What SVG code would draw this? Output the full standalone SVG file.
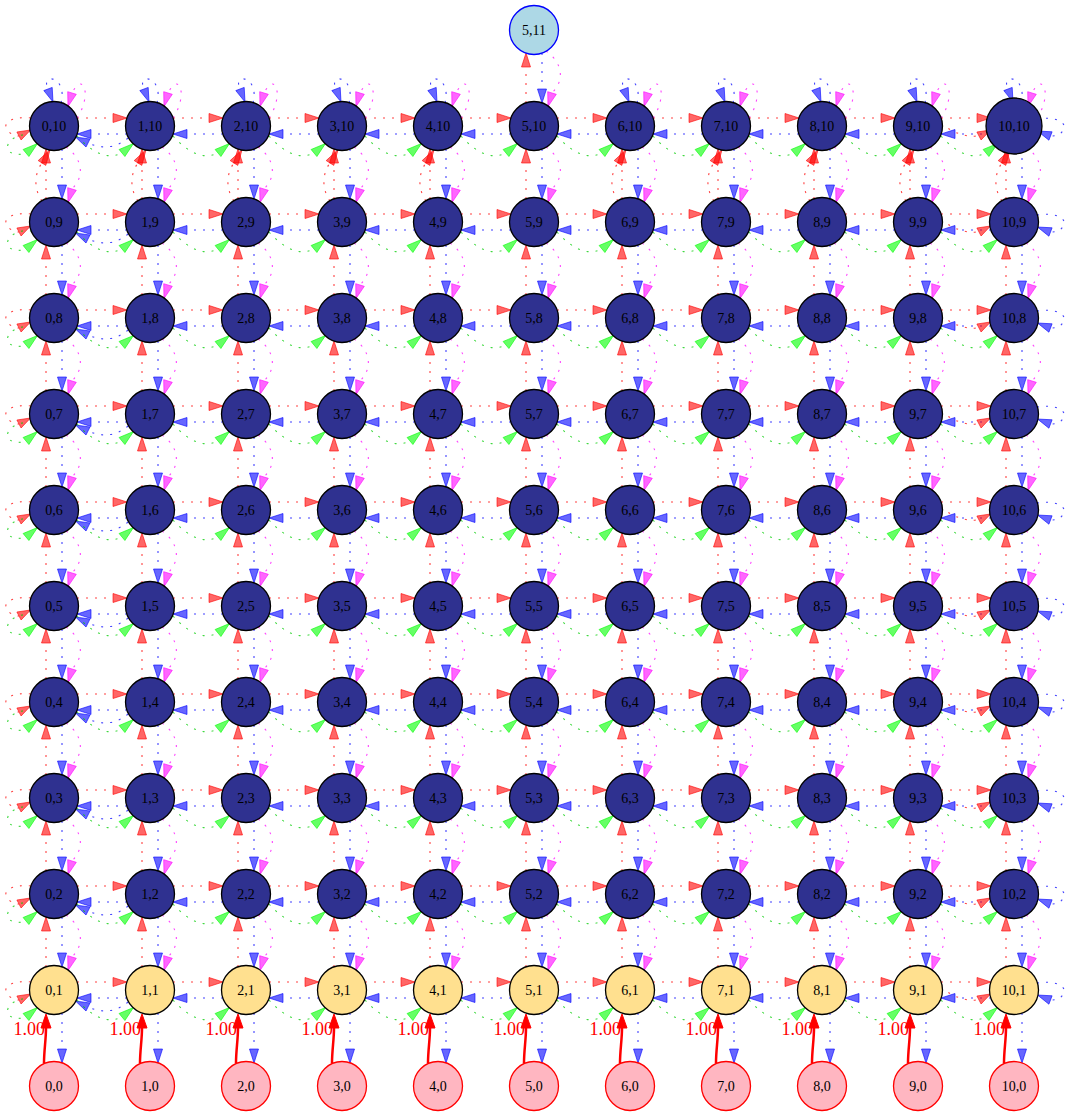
<svg xmlns="http://www.w3.org/2000/svg" xmlns:xlink="http://www.w3.org/1999/xlink" width="1073" height="1117" viewBox="0 0 1073 1117">
<style>
path{fill:none;stroke-width:1.1;stroke-dasharray:2 7;stroke-opacity:.75}
.r{stroke:#f00}.b{stroke:#00f}.m{stroke:#f0f}.g{stroke:#0c0}
polygon{fill-opacity:.6;stroke-opacity:.6;stroke-width:1}
.ra{fill:#f00;stroke:#f00}.ba{fill:#00f;stroke:#00f}.ma{fill:#f0f;stroke:#f0f}.ga{fill:#0f0;stroke:#0f0}
.thk{stroke:#f00;stroke-width:2.5;stroke-dasharray:none;stroke-opacity:1}
.tha{fill:#f00;stroke:#f00;fill-opacity:1;stroke-opacity:1}
.lab{font-family:"Liberation Serif","Times New Roman",serif;font-size:18px;fill:#f00;text-anchor:end}
.node circle{stroke-width:1.3}
.d circle{fill:#2f3190;stroke:#000}
.y circle{fill:#ffe08f;stroke:#000}
.p circle{fill:#ffb6c1;stroke:#f00}
.t circle{fill:#add8e6;stroke:#00f}
.node text{font-family:"Liberation Serif","Times New Roman",serif;font-size:14px;text-anchor:middle;fill:#000}
</style>
<defs>
<g id="rl"><path class="r" d="M-73,-8H-37"/><polygon class="ra" points="-23,-8 -37,-12.5 -37,-3.5"/></g>
<g id="br"><path class="b" d="M73,8H37"/><polygon class="ba" points="23,8 37,3.5 37,12.5"/></g>
<g id="rb"><path class="r" d="M-8,73V37"/><polygon class="ra" points="-8,23 -12.5,37 -3.5,37"/></g>
<g id="bt"><path class="b" d="M8,-73V-37"/><polygon class="ba" points="8,-23 3.5,-37 12.5,-37"/></g>
<g id="mt"><path class="m" d="M12,-75C30,-62 30,-45 18,-33"/><polygon class="ma" points="14,-19.5 22.3,-31.7 13.7,-34.3"/></g>
<g id="gl"><path class="g" d="M-73,10C-55,30 -40,33 -28,27"/><polygon class="ga" points="-16.5,17.5 -25.1,30.5 -30.9,23.5"/></g>
<g id="rloopL"><path class="r" d="M-23,-8C-40,-10 -52,-4 -47,3C-44,8 -40,10 -35,10"/><polygon class="ra" points="-23.5,4 -32.9,14 -37.1,6"/></g>
<g id="gloopL"><path class="g" d="M-22,9C-40,6 -52,20 -44,26C-40,29 -33,29 -28,27"/><polygon class="ga" points="-16.5,17.5 -25.1,30.5 -30.9,23.5"/></g>
<g id="bx"><path class="b" d="M74,12C60,24 45,22 34,17"/><polygon class="ba" points="21.5,11 36,13 32,21"/></g>
<g id="rx"><path class="r" d="M-73,-3C-60,8 -48,11 -35,10"/><polygon class="ra" points="-23.5,4 -32.9,14 -37.1,6"/></g>
<g id="bloopR"><path class="b" d="M23,-7C40,-10 52,-4 50,2C48,8 44,10 36.5,10"/><polygon class="ba" points="23.5,5 38.1,5.8 34.9,14.2"/></g>
<g id="bloopT"><path class="b" d="M7,-23C14,-50 -14,-54 -6,-37"/><polygon class="ba" points="-1,-24 -1.8,-38.6 -10.2,-35.4"/></g>
<g id="mloopT"><path class="m" d="M23,-8C38,-30 30,-56 18,-33"/><polygon class="ma" points="14,-19.5 22.3,-31.7 13.7,-34.3"/></g>
<g id="rxb"><path class="r" d="M-12,75C-22,60 -18,45 -12,37"/><polygon class="ra" points="-4,23.7 -8.2,39.4 -15.8,34.6"/></g>
<g id="thick"><path class="thk" d="M-10,73C-10,60 -8,50 -8,38"/><polygon class="tha" points="-8,24 -13,38 -3,38"/><text class="lab" x="-9" y="45">1.00</text></g>
<g id="h"><use xlink:href="#rl"/><use xlink:href="#gl"/><use xlink:href="#br"/></g>
<g id="h0"><use xlink:href="#rloopL"/><use xlink:href="#gloopL"/><use xlink:href="#br"/><use xlink:href="#bx"/></g>
<g id="h10"><use xlink:href="#rl"/><use xlink:href="#rx"/><use xlink:href="#gl"/><use xlink:href="#bloopR"/></g>
<g id="v"><use xlink:href="#rb"/><use xlink:href="#bt"/><use xlink:href="#mt"/></g>
<g id="vt"><use xlink:href="#bt"/><use xlink:href="#mt"/><use xlink:href="#thick"/></g>
<g id="vtop"><use xlink:href="#rb"/><use xlink:href="#rxb"/><use xlink:href="#bloopT"/><use xlink:href="#mloopT"/></g>
<g id="hrow"><use xlink:href="#h0" x="54"/><use xlink:href="#h" x="150"/><use xlink:href="#h" x="246"/><use xlink:href="#h" x="342"/><use xlink:href="#h" x="438"/><use xlink:href="#h" x="534"/><use xlink:href="#h" x="630"/><use xlink:href="#h" x="726"/><use xlink:href="#h" x="822"/><use xlink:href="#h" x="918"/><use xlink:href="#h10" x="1014"/></g>
<g id="vrow"><use xlink:href="#v" x="54"/><use xlink:href="#v" x="150"/><use xlink:href="#v" x="246"/><use xlink:href="#v" x="342"/><use xlink:href="#v" x="438"/><use xlink:href="#v" x="534"/><use xlink:href="#v" x="630"/><use xlink:href="#v" x="726"/><use xlink:href="#v" x="822"/><use xlink:href="#v" x="918"/><use xlink:href="#v" x="1014"/></g>
<g id="row"><use xlink:href="#hrow"/><use xlink:href="#vrow"/></g>
</defs>
<g id="connectors">
<use xlink:href="#rb" x="534" y="30"/>
<use xlink:href="#hrow" y="126"/>
<use xlink:href="#vtop" x="54" y="126"/><use xlink:href="#vtop" x="150" y="126"/><use xlink:href="#vtop" x="246" y="126"/><use xlink:href="#vtop" x="342" y="126"/><use xlink:href="#vtop" x="438" y="126"/><use xlink:href="#v" x="534" y="126"/><use xlink:href="#vtop" x="630" y="126"/><use xlink:href="#vtop" x="726" y="126"/><use xlink:href="#vtop" x="822" y="126"/><use xlink:href="#vtop" x="918" y="126"/><use xlink:href="#vtop" x="1014" y="126"/>
<use xlink:href="#row" y="222"/>
<use xlink:href="#row" y="318"/>
<use xlink:href="#row" y="414"/>
<use xlink:href="#row" y="510"/>
<use xlink:href="#row" y="606"/>
<use xlink:href="#row" y="702"/>
<use xlink:href="#row" y="798"/>
<use xlink:href="#row" y="894"/>
<use xlink:href="#hrow" y="990"/>
<use xlink:href="#vt" x="54" y="990"/><use xlink:href="#vt" x="150" y="990"/><use xlink:href="#vt" x="246" y="990"/><use xlink:href="#vt" x="342" y="990"/><use xlink:href="#vt" x="438" y="990"/><use xlink:href="#vt" x="534" y="990"/><use xlink:href="#vt" x="630" y="990"/><use xlink:href="#vt" x="726" y="990"/><use xlink:href="#vt" x="822" y="990"/><use xlink:href="#vt" x="918" y="990"/><use xlink:href="#vt" x="1014" y="990"/>
<use xlink:href="#bt" x="54" y="1086"/><use xlink:href="#bt" x="150" y="1086"/><use xlink:href="#bt" x="246" y="1086"/><use xlink:href="#bt" x="342" y="1086"/><use xlink:href="#bt" x="438" y="1086"/><use xlink:href="#bt" x="534" y="1086"/><use xlink:href="#bt" x="630" y="1086"/><use xlink:href="#bt" x="726" y="1086"/><use xlink:href="#bt" x="822" y="1086"/><use xlink:href="#bt" x="918" y="1086"/><use xlink:href="#bt" x="1014" y="1086"/>
</g>
<g id="nodes">
<g id="n5_11" class="node t"><circle cx="534" cy="30" r="24.5"/><text x="534" y="35">5,11</text></g>
<g id="n0_10" class="node d"><circle cx="54" cy="126" r="24.5"/><text x="54" y="131">0,10</text></g>
<g id="n1_10" class="node d"><circle cx="150" cy="126" r="24.5"/><text x="150" y="131">1,10</text></g>
<g id="n2_10" class="node d"><circle cx="246" cy="126" r="24.5"/><text x="246" y="131">2,10</text></g>
<g id="n3_10" class="node d"><circle cx="342" cy="126" r="24.5"/><text x="342" y="131">3,10</text></g>
<g id="n4_10" class="node d"><circle cx="438" cy="126" r="24.5"/><text x="438" y="131">4,10</text></g>
<g id="n5_10" class="node d"><circle cx="534" cy="126" r="24.5"/><text x="534" y="131">5,10</text></g>
<g id="n6_10" class="node d"><circle cx="630" cy="126" r="24.5"/><text x="630" y="131">6,10</text></g>
<g id="n7_10" class="node d"><circle cx="726" cy="126" r="24.5"/><text x="726" y="131">7,10</text></g>
<g id="n8_10" class="node d"><circle cx="822" cy="126" r="24.5"/><text x="822" y="131">8,10</text></g>
<g id="n9_10" class="node d"><circle cx="918" cy="126" r="24.5"/><text x="918" y="131">9,10</text></g>
<g id="n10_10" class="node d"><circle cx="1014" cy="126" r="28"/><text x="1014" y="131">10,10</text></g>
<g id="n0_9" class="node d"><circle cx="54" cy="222" r="24.5"/><text x="54" y="227">0,9</text></g>
<g id="n1_9" class="node d"><circle cx="150" cy="222" r="24.5"/><text x="150" y="227">1,9</text></g>
<g id="n2_9" class="node d"><circle cx="246" cy="222" r="24.5"/><text x="246" y="227">2,9</text></g>
<g id="n3_9" class="node d"><circle cx="342" cy="222" r="24.5"/><text x="342" y="227">3,9</text></g>
<g id="n4_9" class="node d"><circle cx="438" cy="222" r="24.5"/><text x="438" y="227">4,9</text></g>
<g id="n5_9" class="node d"><circle cx="534" cy="222" r="24.5"/><text x="534" y="227">5,9</text></g>
<g id="n6_9" class="node d"><circle cx="630" cy="222" r="24.5"/><text x="630" y="227">6,9</text></g>
<g id="n7_9" class="node d"><circle cx="726" cy="222" r="24.5"/><text x="726" y="227">7,9</text></g>
<g id="n8_9" class="node d"><circle cx="822" cy="222" r="24.5"/><text x="822" y="227">8,9</text></g>
<g id="n9_9" class="node d"><circle cx="918" cy="222" r="24.5"/><text x="918" y="227">9,9</text></g>
<g id="n10_9" class="node d"><circle cx="1014" cy="222" r="24.5"/><text x="1014" y="227">10,9</text></g>
<g id="n0_8" class="node d"><circle cx="54" cy="318" r="24.5"/><text x="54" y="323">0,8</text></g>
<g id="n1_8" class="node d"><circle cx="150" cy="318" r="24.5"/><text x="150" y="323">1,8</text></g>
<g id="n2_8" class="node d"><circle cx="246" cy="318" r="24.5"/><text x="246" y="323">2,8</text></g>
<g id="n3_8" class="node d"><circle cx="342" cy="318" r="24.5"/><text x="342" y="323">3,8</text></g>
<g id="n4_8" class="node d"><circle cx="438" cy="318" r="24.5"/><text x="438" y="323">4,8</text></g>
<g id="n5_8" class="node d"><circle cx="534" cy="318" r="24.5"/><text x="534" y="323">5,8</text></g>
<g id="n6_8" class="node d"><circle cx="630" cy="318" r="24.5"/><text x="630" y="323">6,8</text></g>
<g id="n7_8" class="node d"><circle cx="726" cy="318" r="24.5"/><text x="726" y="323">7,8</text></g>
<g id="n8_8" class="node d"><circle cx="822" cy="318" r="24.5"/><text x="822" y="323">8,8</text></g>
<g id="n9_8" class="node d"><circle cx="918" cy="318" r="24.5"/><text x="918" y="323">9,8</text></g>
<g id="n10_8" class="node d"><circle cx="1014" cy="318" r="24.5"/><text x="1014" y="323">10,8</text></g>
<g id="n0_7" class="node d"><circle cx="54" cy="414" r="24.5"/><text x="54" y="419">0,7</text></g>
<g id="n1_7" class="node d"><circle cx="150" cy="414" r="24.5"/><text x="150" y="419">1,7</text></g>
<g id="n2_7" class="node d"><circle cx="246" cy="414" r="24.5"/><text x="246" y="419">2,7</text></g>
<g id="n3_7" class="node d"><circle cx="342" cy="414" r="24.5"/><text x="342" y="419">3,7</text></g>
<g id="n4_7" class="node d"><circle cx="438" cy="414" r="24.5"/><text x="438" y="419">4,7</text></g>
<g id="n5_7" class="node d"><circle cx="534" cy="414" r="24.5"/><text x="534" y="419">5,7</text></g>
<g id="n6_7" class="node d"><circle cx="630" cy="414" r="24.5"/><text x="630" y="419">6,7</text></g>
<g id="n7_7" class="node d"><circle cx="726" cy="414" r="24.5"/><text x="726" y="419">7,7</text></g>
<g id="n8_7" class="node d"><circle cx="822" cy="414" r="24.5"/><text x="822" y="419">8,7</text></g>
<g id="n9_7" class="node d"><circle cx="918" cy="414" r="24.5"/><text x="918" y="419">9,7</text></g>
<g id="n10_7" class="node d"><circle cx="1014" cy="414" r="24.5"/><text x="1014" y="419">10,7</text></g>
<g id="n0_6" class="node d"><circle cx="54" cy="510" r="24.5"/><text x="54" y="515">0,6</text></g>
<g id="n1_6" class="node d"><circle cx="150" cy="510" r="24.5"/><text x="150" y="515">1,6</text></g>
<g id="n2_6" class="node d"><circle cx="246" cy="510" r="24.5"/><text x="246" y="515">2,6</text></g>
<g id="n3_6" class="node d"><circle cx="342" cy="510" r="24.5"/><text x="342" y="515">3,6</text></g>
<g id="n4_6" class="node d"><circle cx="438" cy="510" r="24.5"/><text x="438" y="515">4,6</text></g>
<g id="n5_6" class="node d"><circle cx="534" cy="510" r="24.5"/><text x="534" y="515">5,6</text></g>
<g id="n6_6" class="node d"><circle cx="630" cy="510" r="24.5"/><text x="630" y="515">6,6</text></g>
<g id="n7_6" class="node d"><circle cx="726" cy="510" r="24.5"/><text x="726" y="515">7,6</text></g>
<g id="n8_6" class="node d"><circle cx="822" cy="510" r="24.5"/><text x="822" y="515">8,6</text></g>
<g id="n9_6" class="node d"><circle cx="918" cy="510" r="24.5"/><text x="918" y="515">9,6</text></g>
<g id="n10_6" class="node d"><circle cx="1014" cy="510" r="24.5"/><text x="1014" y="515">10,6</text></g>
<g id="n0_5" class="node d"><circle cx="54" cy="606" r="24.5"/><text x="54" y="611">0,5</text></g>
<g id="n1_5" class="node d"><circle cx="150" cy="606" r="24.5"/><text x="150" y="611">1,5</text></g>
<g id="n2_5" class="node d"><circle cx="246" cy="606" r="24.5"/><text x="246" y="611">2,5</text></g>
<g id="n3_5" class="node d"><circle cx="342" cy="606" r="24.5"/><text x="342" y="611">3,5</text></g>
<g id="n4_5" class="node d"><circle cx="438" cy="606" r="24.5"/><text x="438" y="611">4,5</text></g>
<g id="n5_5" class="node d"><circle cx="534" cy="606" r="24.5"/><text x="534" y="611">5,5</text></g>
<g id="n6_5" class="node d"><circle cx="630" cy="606" r="24.5"/><text x="630" y="611">6,5</text></g>
<g id="n7_5" class="node d"><circle cx="726" cy="606" r="24.5"/><text x="726" y="611">7,5</text></g>
<g id="n8_5" class="node d"><circle cx="822" cy="606" r="24.5"/><text x="822" y="611">8,5</text></g>
<g id="n9_5" class="node d"><circle cx="918" cy="606" r="24.5"/><text x="918" y="611">9,5</text></g>
<g id="n10_5" class="node d"><circle cx="1014" cy="606" r="24.5"/><text x="1014" y="611">10,5</text></g>
<g id="n0_4" class="node d"><circle cx="54" cy="702" r="24.5"/><text x="54" y="707">0,4</text></g>
<g id="n1_4" class="node d"><circle cx="150" cy="702" r="24.5"/><text x="150" y="707">1,4</text></g>
<g id="n2_4" class="node d"><circle cx="246" cy="702" r="24.5"/><text x="246" y="707">2,4</text></g>
<g id="n3_4" class="node d"><circle cx="342" cy="702" r="24.5"/><text x="342" y="707">3,4</text></g>
<g id="n4_4" class="node d"><circle cx="438" cy="702" r="24.5"/><text x="438" y="707">4,4</text></g>
<g id="n5_4" class="node d"><circle cx="534" cy="702" r="24.5"/><text x="534" y="707">5,4</text></g>
<g id="n6_4" class="node d"><circle cx="630" cy="702" r="24.5"/><text x="630" y="707">6,4</text></g>
<g id="n7_4" class="node d"><circle cx="726" cy="702" r="24.5"/><text x="726" y="707">7,4</text></g>
<g id="n8_4" class="node d"><circle cx="822" cy="702" r="24.5"/><text x="822" y="707">8,4</text></g>
<g id="n9_4" class="node d"><circle cx="918" cy="702" r="24.5"/><text x="918" y="707">9,4</text></g>
<g id="n10_4" class="node d"><circle cx="1014" cy="702" r="24.5"/><text x="1014" y="707">10,4</text></g>
<g id="n0_3" class="node d"><circle cx="54" cy="798" r="24.5"/><text x="54" y="803">0,3</text></g>
<g id="n1_3" class="node d"><circle cx="150" cy="798" r="24.5"/><text x="150" y="803">1,3</text></g>
<g id="n2_3" class="node d"><circle cx="246" cy="798" r="24.5"/><text x="246" y="803">2,3</text></g>
<g id="n3_3" class="node d"><circle cx="342" cy="798" r="24.5"/><text x="342" y="803">3,3</text></g>
<g id="n4_3" class="node d"><circle cx="438" cy="798" r="24.5"/><text x="438" y="803">4,3</text></g>
<g id="n5_3" class="node d"><circle cx="534" cy="798" r="24.5"/><text x="534" y="803">5,3</text></g>
<g id="n6_3" class="node d"><circle cx="630" cy="798" r="24.5"/><text x="630" y="803">6,3</text></g>
<g id="n7_3" class="node d"><circle cx="726" cy="798" r="24.5"/><text x="726" y="803">7,3</text></g>
<g id="n8_3" class="node d"><circle cx="822" cy="798" r="24.5"/><text x="822" y="803">8,3</text></g>
<g id="n9_3" class="node d"><circle cx="918" cy="798" r="24.5"/><text x="918" y="803">9,3</text></g>
<g id="n10_3" class="node d"><circle cx="1014" cy="798" r="24.5"/><text x="1014" y="803">10,3</text></g>
<g id="n0_2" class="node d"><circle cx="54" cy="894" r="24.5"/><text x="54" y="899">0,2</text></g>
<g id="n1_2" class="node d"><circle cx="150" cy="894" r="24.5"/><text x="150" y="899">1,2</text></g>
<g id="n2_2" class="node d"><circle cx="246" cy="894" r="24.5"/><text x="246" y="899">2,2</text></g>
<g id="n3_2" class="node d"><circle cx="342" cy="894" r="24.5"/><text x="342" y="899">3,2</text></g>
<g id="n4_2" class="node d"><circle cx="438" cy="894" r="24.5"/><text x="438" y="899">4,2</text></g>
<g id="n5_2" class="node d"><circle cx="534" cy="894" r="24.5"/><text x="534" y="899">5,2</text></g>
<g id="n6_2" class="node d"><circle cx="630" cy="894" r="24.5"/><text x="630" y="899">6,2</text></g>
<g id="n7_2" class="node d"><circle cx="726" cy="894" r="24.5"/><text x="726" y="899">7,2</text></g>
<g id="n8_2" class="node d"><circle cx="822" cy="894" r="24.5"/><text x="822" y="899">8,2</text></g>
<g id="n9_2" class="node d"><circle cx="918" cy="894" r="24.5"/><text x="918" y="899">9,2</text></g>
<g id="n10_2" class="node d"><circle cx="1014" cy="894" r="24.5"/><text x="1014" y="899">10,2</text></g>
<g id="n0_1" class="node y"><circle cx="54" cy="990" r="24.5"/><text x="54" y="995">0,1</text></g>
<g id="n1_1" class="node y"><circle cx="150" cy="990" r="24.5"/><text x="150" y="995">1,1</text></g>
<g id="n2_1" class="node y"><circle cx="246" cy="990" r="24.5"/><text x="246" y="995">2,1</text></g>
<g id="n3_1" class="node y"><circle cx="342" cy="990" r="24.5"/><text x="342" y="995">3,1</text></g>
<g id="n4_1" class="node y"><circle cx="438" cy="990" r="24.5"/><text x="438" y="995">4,1</text></g>
<g id="n5_1" class="node y"><circle cx="534" cy="990" r="24.5"/><text x="534" y="995">5,1</text></g>
<g id="n6_1" class="node y"><circle cx="630" cy="990" r="24.5"/><text x="630" y="995">6,1</text></g>
<g id="n7_1" class="node y"><circle cx="726" cy="990" r="24.5"/><text x="726" y="995">7,1</text></g>
<g id="n8_1" class="node y"><circle cx="822" cy="990" r="24.5"/><text x="822" y="995">8,1</text></g>
<g id="n9_1" class="node y"><circle cx="918" cy="990" r="24.5"/><text x="918" y="995">9,1</text></g>
<g id="n10_1" class="node y"><circle cx="1014" cy="990" r="24.5"/><text x="1014" y="995">10,1</text></g>
<g id="n0_0" class="node p"><circle cx="54" cy="1086" r="24.5"/><text x="54" y="1091">0,0</text></g>
<g id="n1_0" class="node p"><circle cx="150" cy="1086" r="24.5"/><text x="150" y="1091">1,0</text></g>
<g id="n2_0" class="node p"><circle cx="246" cy="1086" r="24.5"/><text x="246" y="1091">2,0</text></g>
<g id="n3_0" class="node p"><circle cx="342" cy="1086" r="24.5"/><text x="342" y="1091">3,0</text></g>
<g id="n4_0" class="node p"><circle cx="438" cy="1086" r="24.5"/><text x="438" y="1091">4,0</text></g>
<g id="n5_0" class="node p"><circle cx="534" cy="1086" r="24.5"/><text x="534" y="1091">5,0</text></g>
<g id="n6_0" class="node p"><circle cx="630" cy="1086" r="24.5"/><text x="630" y="1091">6,0</text></g>
<g id="n7_0" class="node p"><circle cx="726" cy="1086" r="24.5"/><text x="726" y="1091">7,0</text></g>
<g id="n8_0" class="node p"><circle cx="822" cy="1086" r="24.5"/><text x="822" y="1091">8,0</text></g>
<g id="n9_0" class="node p"><circle cx="918" cy="1086" r="24.5"/><text x="918" y="1091">9,0</text></g>
<g id="n10_0" class="node p"><circle cx="1014" cy="1086" r="24.5"/><text x="1014" y="1091">10,0</text></g>
</g>
</svg>
